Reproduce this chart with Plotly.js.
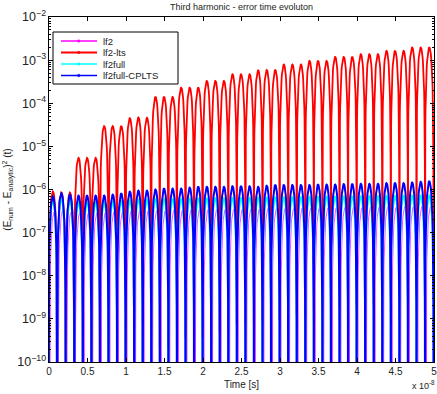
<!DOCTYPE html>
<html>
<head>
<meta charset="utf-8">
<script src="https://cdn.plot.ly/plotly-3.0.1.min.js"></script>
<style>
  html, body { margin: 0; padding: 0; background: #fff; }
  #chart { width: 437px; height: 394px; }
</style>
</head>
<body>
<div id="chart"></div>
<script>
// Time axis is expressed in units of 1e-8 s; each oscillation lobe spans 1/9 of a unit.
const lobeWidth = 1 / 9;

// Scheme names and colours.
const seriesNames = ['lf2', 'lf2-lts', 'lf2full', 'lf2full-CPLTS'];
const seriesColors = ['#ff00ff', '#ff0000', '#00ffff', '#0000ff'];

// Peak of each error lobe (45 lobes over 0..5e-8 s), per scheme.
const peaksLf2 = [
  3.0e-7, 3.2e-7, 3.0e-7, 2.8e-7, 2.8e-7, 2.8e-7, 2.9e-7, 3.0e-7, 3.0e-7, 3.1e-7,
  3.1e-7, 3.2e-7, 3.2e-7, 3.2e-7, 3.3e-7, 3.3e-7, 3.3e-7, 3.4e-7, 3.4e-7, 3.4e-7,
  3.4e-7, 3.5e-7, 3.5e-7, 3.5e-7, 3.5e-7, 3.6e-7, 3.6e-7, 3.6e-7, 3.6e-7, 3.7e-7,
  3.7e-7, 3.7e-7, 3.7e-7, 3.8e-7, 3.8e-7, 3.8e-7, 3.8e-7, 3.9e-7, 3.9e-7, 3.9e-7,
  3.9e-7, 4.0e-7, 4.0e-7, 4.0e-7, 4.0e-7
];
const peaksLf2Lts = [
  9.0e-7, 8.5e-7, 8.5e-7, 5.4e-6, 5.4e-6, 5.4e-6, 2.95e-5, 2.95e-5, 2.95e-5, 4.5e-5,
  4.7e-5, 4.6e-5, 1.4e-4, 1.4e-4, 1.4e-4, 2.3e-4, 2.3e-4, 2.3e-4, 3.3e-4, 3.3e-4,
  3.3e-4, 4.7e-4, 4.7e-4, 4.7e-4, 5.8e-4, 5.9e-4, 5.9e-4, 7.9e-4, 7.9e-4, 7.9e-4,
  9.6e-4, 9.6e-4, 9.6e-4, 1.19e-3, 1.19e-3, 1.19e-3, 1.37e-3, 1.37e-3, 1.37e-3, 1.64e-3,
  1.64e-3, 1.64e-3, 1.96e-3, 1.96e-3, 1.96e-3
];
const peaksLf2full = [
  5.5e-7, 6.0e-7, 5.5e-7, 5.0e-7, 5.0e-7, 5.0e-7, 5.0e-7, 5.2e-7, 5.4e-7, 5.6e-7,
  5.8e-7, 5.8e-7, 6.0e-7, 6.0e-7, 6.0e-7, 6.0e-7, 6.2e-7, 6.2e-7, 6.2e-7, 6.3e-7,
  6.3e-7, 6.4e-7, 6.4e-7, 6.4e-7, 6.5e-7, 6.5e-7, 6.6e-7, 6.6e-7, 6.6e-7, 6.7e-7,
  6.7e-7, 6.8e-7, 6.8e-7, 6.8e-7, 6.9e-7, 6.9e-7, 7.0e-7, 7.0e-7, 7.0e-7, 7.1e-7,
  7.1e-7, 7.2e-7, 7.2e-7, 7.3e-7, 7.4e-7
];
const peaksLf2fullCplts = [
  6.9e-7, 8.2e-7, 7.6e-7, 7.2e-7, 7.2e-7, 7.2e-7, 7.2e-7, 7.6e-7, 8.0e-7, 8.9e-7,
  9.4e-7, 9.4e-7, 1.0e-6, 1.05e-6, 1.05e-6, 1.05e-6, 1.1e-6, 1.15e-6, 1.15e-6, 1.15e-6,
  1.15e-6, 1.19e-6, 1.19e-6, 1.19e-6, 1.15e-6, 1.22e-6, 1.27e-6, 1.27e-6, 1.27e-6, 1.27e-6,
  1.27e-6, 1.3e-6, 1.3e-6, 1.3e-6, 1.33e-6, 1.33e-6, 1.35e-6, 1.35e-6, 1.35e-6, 1.4e-6,
  1.4e-6, 1.4e-6, 1.45e-6, 1.5e-6, 1.55e-6
];

// Where each scheme's error vanishes, relative to the lobe grid (units of 1e-8 s).
const zeroShift = [0.010, -0.006, -0.006, -0.006];

// Shape of one half lobe: position inside the lobe and level relative to the peak.
const halfLobeFrac  = [0.0004, 0.0015, 0.004, 0.008, 0.015, 0.025, 0.04, 0.06, 0.08, 0.1,
                       0.13, 0.16, 0.2, 0.24, 0.28, 0.32, 0.36, 0.4, 0.44, 0.47, 0.5];
const halfLobeLevel = [1.58e-6, 2.22e-5, 1.58e-4, 6.31e-4, 2.22e-3, 6.16e-3, 1.57e-2, 3.51e-2, 6.18e-2, 9.55e-2,
                       0.158, 0.232, 0.3455, 0.4686, 0.5937, 0.7129, 0.8187, 0.9045, 0.9649, 0.9911, 1.0];

// Axis tick labels.
const xTickVals = [0, 0.5, 1, 1.5, 2, 2.5, 3, 3.5, 4, 4.5, 5];
const xTickText = ['0', '0.5', '1', '1.5', '2', '2.5', '3', '3.5', '4', '4.5', '5'];

// Full lobe profile (rising half, then mirrored falling half).
const lobeFrac = halfLobeFrac.concat(halfLobeFrac.slice(0, -1).reverse().map(f => 1 - f));
const lobeLevel = halfLobeLevel.concat(halfLobeLevel.slice(0, -1).reverse());

function lobeSeries(peaks, shift) {
  const x = [], y = [];
  peaks.forEach((p, k) => {
    const start = k * lobeWidth + shift;
    lobeFrac.forEach((f, j) => {
      x.push(start + f * lobeWidth);
      y.push(p * lobeLevel[j]);
    });
  });
  return { x, y };
}

const allPeaks = [peaksLf2, peaksLf2Lts, peaksLf2full, peaksLf2fullCplts];
const lineWidths = [0.7, 1.8, 1.8, 2.0];

const data = allPeaks.map((peaks, i) => {
  const s = lobeSeries(peaks, zeroShift[i]);
  return {
    type: 'scatter', mode: 'lines', name: seriesNames[i],
    x: s.x, y: s.y, showlegend: false,
    line: { color: seriesColors[i], width: lineWidths[i] }
  };
});

const font = 'Liberation Sans, Arial, Helvetica, sans-serif';

// Plot area in pixels, used to place the boxed key in the upper-left corner.
const plotL = 49, plotT = 17, plotW = 385, plotH = 345;
const px = v => (v - plotL) / plotW;
const py = v => 1 - (v - plotT) / plotH;

const keyBox = { x0: 53, x1: 178, y0: 32, y1: 84 };
const keyRows = [41, 52.5, 64, 75.5];
const shapes = [{
  type: 'rect', xref: 'paper', yref: 'paper', layer: 'above',
  x0: px(keyBox.x0), x1: px(keyBox.x1), y0: py(keyBox.y1), y1: py(keyBox.y0),
  line: { color: '#000', width: 1 }, fillcolor: '#fff'
}];
const annotations = [];
seriesNames.forEach((name, i) => {
  const yy = keyRows[i];
  shapes.push({
    type: 'line', xref: 'paper', yref: 'paper', layer: 'above',
    x0: px(61), x1: px(97), y0: py(yy), y1: py(yy),
    line: { color: seriesColors[i], width: i === 1 ? 2 : 1.4 }
  });
  shapes.push({
    type: 'circle', xref: 'paper', yref: 'paper', layer: 'above',
    x0: px(77.5), x1: px(80), y0: py(yy + 1.25), y1: py(yy - 1.25),
    line: { color: seriesColors[i], width: 0.5 }, fillcolor: seriesColors[i]
  });
  annotations.push({
    text: name, showarrow: false, xref: 'paper', yref: 'paper',
    x: px(101), y: py(yy), xanchor: 'left', yanchor: 'middle',
    font: { family: font, size: 9.5, color: '#222' }
  });
});
annotations.push({
  text: 'x 10<sup>-8</sup>', showarrow: false,
  xref: 'paper', yref: 'paper', x: 1.008, y: -0.067,
  xanchor: 'right', yanchor: 'middle',
  font: { family: font, size: 9, color: '#222' }
});

const layout = {
  width: 437, height: 394,
  margin: { l: 49, r: 3, t: 17, b: 32 },
  paper_bgcolor: '#fff', plot_bgcolor: '#fff',
  font: { family: font, size: 10, color: '#222' },
  showlegend: false,
  title: {
    text: 'Third harmonic - error time evoluton',
    font: { family: font, size: 9, color: '#222' },
    x: 0.5, xref: 'paper', xanchor: 'center',
    y: 0.983, yref: 'container', yanchor: 'middle'
  },
  xaxis: {
    range: [0, 5],
    tickvals: xTickVals, ticktext: xTickText,
    ticklabeloverflow: 'allow',
    ticks: 'inside', ticklen: 4, tickcolor: '#000',
    showline: true, linecolor: '#000', linewidth: 1, mirror: 'ticks',
    showgrid: false, zeroline: false,
    tickfont: { family: font, size: 10, color: '#222' },
    title: { text: 'Time [s]', font: { family: font, size: 10, color: '#222' }, standoff: 4 }
  },
  yaxis: {
    type: 'log', range: [-10, -2], dtick: 1,
    exponentformat: 'power', showexponent: 'all',
    ticks: 'inside', ticklen: 4, tickcolor: '#000',
    minor: { ticks: 'inside', ticklen: 2, tickcolor: '#000', showgrid: false },
    showline: true, linecolor: '#000', linewidth: 1, mirror: 'ticks',
    showgrid: false, zeroline: false,
    tickfont: { family: font, size: 10, color: '#222' },
    title: {
      text: '(E<sub>num</sub> - E<sub>analytic</sub>)<sup>2</sup> (t)',
      font: { family: font, size: 10, color: '#222' }, standoff: 3
    }
  },
  shapes, annotations
};

Plotly.newPlot('chart', data, layout, { displayModeBar: false, staticPlot: true });
</script>
</body>
</html>
